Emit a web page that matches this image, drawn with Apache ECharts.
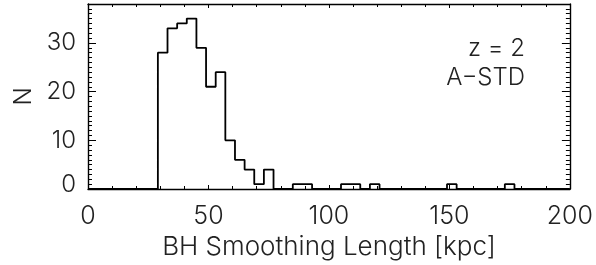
<!DOCTYPE html>
<html>
<head>
<meta charset="utf-8">
<script src="https://cdn.jsdelivr.net/npm/echarts@6/dist/echarts.min.js"></script>
<style>
html,body{margin:0;padding:0;background:#fff;}
#chart{width:596px;height:265px;}
</style>
</head>
<body>
<div id="chart"></div>
<script>
// Histogram data: bins of width 4 kpc starting at 29 kpc
const binStart = 29;
const binWidth = 4;
const counts = [28, 33, 34, 35, 29, 21, 24, 10, 6, 4, 1, 4, 0, 0, 1, 1, 0, 0, 0, 1, 1, 0, 1,
                0, 0, 0, 0, 0, 0, 0, 1, 0, 0, 0, 0, 0, 1];
const xTicks = [0, 50, 100, 150, 200];
const yTicks = [0, 10, 20, 30];
const xTitle = 'BH Smoothing Length [kpc]';
const yTitle = 'N';
const labelLines = ['z = 2', 'A\u2212STD'];

const FONT = 'Inter';
const stepData = [[xTicks[0], 0]];
counts.forEach((c, i) => stepData.push([binStart + i * binWidth, c]));
stepData.push([binStart + counts.length * binWidth, 0]);
stepData.push([xTicks[xTicks.length - 1], 0]);

const chart = echarts.init(document.getElementById('chart'), null, {renderer: 'canvas'});
const axisLine = {show: true, onZero: false, lineStyle: {color: '#000', width: 1.4}};
function xBase() {
  return {
    type: 'value', min: 0, max: 200, interval: 50,
    axisLine: axisLine,
    axisTick: {show: true, inside: true, length: 4, lineStyle: {color: '#000', width: 1}},
    minorTick: {show: true, splitNumber: 5, length: 3, lineStyle: {color: '#000', width: 1}},
    splitLine: {show: false}
  };
}
function yBase() {
  return {
    type: 'value', min: 0, max: 38, interval: 10,
    axisLine: axisLine,
    axisTick: {show: true, inside: true, length: 8, lineStyle: {color: '#000', width: 1}},
    minorTick: {show: true, splitNumber: 10, length: 4, lineStyle: {color: '#000', width: 1}},
    splitLine: {show: false}
  };
}
const txt = {fontFamily: FONT, fontSize: 24, fontWeight: 300, color: '#222'};
chart.setOption({
  animation: false,
  backgroundColor: '#fff',
  grid: {left: 88, right: 24, top: 4, bottom: 76},
  xAxis: [
    Object.assign(xBase(), {
      position: 'bottom',
      name: xTitle, nameLocation: 'middle', nameGap: 42,
      nameTextStyle: Object.assign({}, txt, {fontSize: 26}),
      axisLabel: Object.assign({show: true, margin: 15, customValues: xTicks}, txt, {fontSize: 25})
    }),
    Object.assign(xBase(), {position: 'top', axisLabel: {show: false}})
  ],
  yAxis: [
    Object.assign(yBase(), {
      position: 'left',
      name: yTitle, nameLocation: 'middle', nameGap: 36, nameRotate: 90,
      nameTextStyle: Object.assign({}, txt),
      axisLabel: Object.assign({show: true, margin: 12, showMaxLabel: false,
                  formatter: v => (v === 0 ? '{z|0}' : String(v)),
                  rich: {z: Object.assign({padding: [0, 0, 8, 0]}, txt)}}, txt)
    }),
    Object.assign(yBase(), {position: 'right', axisLabel: {show: false}})
  ],
  series: [{
    type: 'line',
    step: 'end',
    data: stepData,
    showSymbol: false,
    symbol: 'none',
    lineStyle: {color: '#000', width: 1.8},
    z: 1
  }],
  graphic: [
    {type: 'text', right: 71, top: 37, style: {text: labelLines[0], fontFamily: FONT, fontSize: 24, fontWeight: 300, fill: '#222'}},
    {type: 'text', right: 71, top: 66, style: {text: labelLines[1], fontFamily: FONT, fontSize: 24, fontWeight: 300, fill: '#222'}}
  ]
});
</script>
</body>
</html>
